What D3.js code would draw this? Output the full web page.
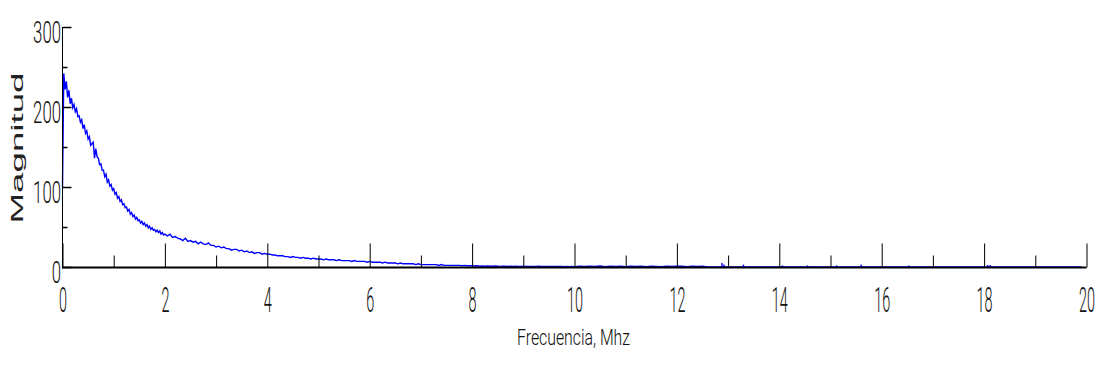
<!DOCTYPE html>
<html><head><meta charset="utf-8">
<script src="https://cdn.jsdelivr.net/npm/d3@7"></script>
<style>html,body{margin:0;padding:0;background:#fff;overflow:hidden}</style>
</head><body><svg id="chart" width="1102" height="372"></svg>
<script>
// ---- data ----
const xMajorTicks = [0, 2, 4, 6, 8, 10, 12, 14, 16, 18, 20];
const xMinorTicks = [1, 3, 5, 7, 9, 11, 13, 15, 17, 19];
const yMajorTicks = [0, 100, 200, 300];
const yMinorTicks = [50, 150, 250];
const xTitle = "Frecuencia, Mhz";
const yTitle = "Magnitud";

// segment A: 0 .. 2 MHz, every 0.025 MHz
const magAStart = 0, magAStep = 0.025;
const magA = [100, 242, 222, 232, 212, 221, 204, 211, 199, 203,
  194, 198, 188, 189, 181, 184, 173, 178, 167, 170,
  160, 163, 152, 154, 156, 136, 148, 138, 136, 128,
  129, 121, 121, 113, 116, 106, 109, 101, 103, 96,
  98, 91, 93, 86, 88, 82, 84, 78, 79, 74,
  75, 70, 72, 66, 68, 63, 65, 60, 62, 58,
  59, 55, 57, 53, 55, 51, 53, 49, 51, 47,
  49, 46, 47, 44, 46, 43, 45, 41, 43, 40,
  41];
// segment B: 2.05 .. 10 MHz, every 0.05 MHz
const magBStart = 2.05, magBStep = 0.05;
const magB = [39, 41, 37, 38, 36, 35, 33, 36, 32, 33,
  31, 32, 29, 31, 29, 28, 30, 27, 27, 25,
  26, 24, 25, 23, 23, 21, 22, 22, 20, 21,
  19, 20, 18, 19, 17, 18, 18, 16, 17, 16,
  16, 15, 15, 14, 14, 14, 13, 13, 12, 13,
  12, 12, 11, 12, 11, 11, 10, 11, 10, 10,
  10, 9, 10, 9, 9, 9, 8, 9, 8, 8,
  8, 8, 7, 8, 7, 7, 7, 7, 6, 7,
  6, 6, 6, 6, 5, 6, 5, 5, 5, 5,
  4, 5, 4, 4, 4, 4, 4, 3, 4, 3,
  3, 3, 3, 3, 3, 3, 2, 3, 2, 2,
  2, 2, 2, 2, 2, 1.5, 2, 1.5, 1.5, 1.5,
  1.2, 1.5, 1, 1.2, 1, 1.3, 1, 1, 1.2, 1,
  0.8, 1, 1, 0.8, 1, 0.8, 1, 0.8, 0.8, 1,
  0.8, 0.7, 0.8, 0.8, 0.7, 1, 0.7, 0.6, 0.8, 0.7,
  0.6, 0.7, 0.6, 0.7, 0.6, 0.5, 0.6, 0.5, 0.6, 0.5];
// segment C: 10.1 .. 20 MHz, every 0.1 MHz
const magCStart = 10.1, magCStep = 0.1;
const magC = [1, 0.6, 1, 0.8, 1.2, 0.5, 1, 0.8, 1, 0.5,
  1, 0.8, 1, 0.4, 0.9, 0.8, 0.3, 1, 0.8, 0.9,
  1, 0.5, 1, 0.8, 1, 0.2, 0, 0, 0, 0,
  0, 0, 0, 0, 0, 0, 0, 0, 0, 0,
  0, 0, 0, 0, 0, 0, 0, 0, 0, 0,
  0, 0, 0, 0, 0, 0, 0, 0, 0, 0,
  0, 0, 0, 0, 0, 0, 0, 0, 0, 0,
  0, 0, 0, 0, 0, 0, 0, 0, 0, 0,
  0, 0, 0, 0, 0, 0, 0, 0, 0, 0,
  0, 0, 0, 0, 0, 0, 0, 0, 0];
// isolated spikes in the tail
const blipFreq = [12.88, 12.92, 13.3, 14.06, 14.55, 15.12, 15.6, 16.53, 18.07, 18.12];
const blipMag = [5, 3, 3, 2, 2, 2, 3, 2, 2.5, 2.5];

// ---- drawing ----
const svg = d3.select("#chart");
const x = d3.scaleLinear().domain([0, 20]).range([62.5, 1086.5]);
const y = d3.scaleLinear().domain([0, 300]).range([267, 27]);

const pts = [];
magA.forEach((v, i) => pts.push([magAStart + i * magAStep, v]));
magB.forEach((v, i) => pts.push([magBStart + i * magBStep, v]));
magC.forEach((v, i) => pts.push([magCStart + i * magCStep, v]));

svg.append("path").datum(pts)
  .attr("fill", "none").attr("stroke", "#0000ff").attr("stroke-width", 1.4)
  .attr("d", d3.line().x(d => x(d[0])).y(d => y(d[1])));

svg.append("g").selectAll("line").data(blipFreq).join("line")
  .attr("x1", d => x(d)).attr("x2", d => x(d))
  .attr("y1", y(0)).attr("y2", (d, i) => y(blipMag[i]))
  .attr("stroke", "#0000ff").attr("stroke-width", 1.4);

const thinFont = "Roboto, 'Liberation Sans', Arial, sans-serif";
const font = "'Liberation Sans', Arial, sans-serif";
const base = y(0) + 0.5;

// squeeze a text horizontally to a target advance width (keeps its height)
function squeeze(textNode, pre, target, post) {
  const w = textNode.getComputedTextLength() || 1;
  d3.select(textNode).attr("transform", `${pre} scale(${target / w},1)${post || ""}`);
}

// x axis: minor ticks
svg.append("g").attr("transform", `translate(0,${base})`)
  .call(d3.axisBottom(x).tickValues(xMinorTicks).tickSize(-12).tickFormat(""))
  .call(g => g.select(".domain").remove())
  .call(g => g.selectAll("line").attr("stroke", "#000"));
// x axis: major ticks + labels
svg.append("g").attr("transform", `translate(0,${base})`)
  .call(d3.axisBottom(x).tickValues(xMajorTicks).tickSize(-24).tickFormat(d3.format("d")))
  .call(g => g.select(".domain").remove())
  .call(g => g.selectAll("line").attr("stroke", "#000"))
  .call(g => g.selectAll("text")
    .attr("x", 0).attr("y", 0).attr("dy", null)
    .attr("font-family", thinFont).attr("font-weight", 300).attr("font-size", 36).attr("fill", "#111")
    .attr("text-anchor", "middle")
    .each(function() { squeeze(this, `translate(0,${312 - base})`, 8 * this.textContent.length); }));
// x axis line
svg.append("line").attr("x1", x(0)).attr("x2", x(20)).attr("y1", base).attr("y2", base)
  .attr("stroke", "#000").attr("stroke-width", 2);

// y axis: minor ticks
svg.append("g").attr("transform", `translate(${x(0)},0)`)
  .call(d3.axisLeft(y).tickValues(yMinorTicks).tickSize(-5).tickFormat(""))
  .call(g => g.select(".domain").remove())
  .call(g => g.selectAll("line").attr("stroke", "#000").attr("stroke-width", 1.5));
// y axis: major ticks + labels
svg.append("g").attr("transform", `translate(${x(0)},0)`)
  .call(d3.axisLeft(y).tickValues(yMajorTicks).tickSize(-9).tickFormat(d3.format("d")))
  .call(g => g.select(".domain").remove())
  .call(g => g.selectAll("line").attr("stroke", "#000").attr("stroke-width", 1.5))
  .call(g => g.selectAll("text")
    .attr("x", 0).attr("y", 0).attr("dy", null)
    .attr("font-family", thinFont).attr("font-weight", 300).attr("font-size", 32).attr("fill", "#111")
    .attr("text-anchor", "end")
    .each(function() { squeeze(this, "translate(-1.5,15)", 9.3 * this.textContent.length); }));
// y axis line
svg.append("line").attr("x1", x(0)).attr("x2", x(0)).attr("y1", y(300)).attr("y2", base + 1)
  .attr("stroke", "#000").attr("stroke-width", 1);

// titles
const xt = svg.append("text").attr("x", 0).attr("y", 0)
  .attr("text-anchor", "middle").attr("font-family", thinFont).attr("font-weight", 300)
  .attr("font-size", 22).attr("fill", "#111").text(xTitle);
squeeze(xt.node(), "translate(573.5,345)", 113);
const yt = svg.append("text").attr("x", 0).attr("y", 0)
  .attr("text-anchor", "middle").attr("font-family", font).attr("font-size", 16).attr("fill", "#222")
  .text(yTitle);
squeeze(yt.node(), "translate(23,148) rotate(-90)", 151);
</script></body></html>
